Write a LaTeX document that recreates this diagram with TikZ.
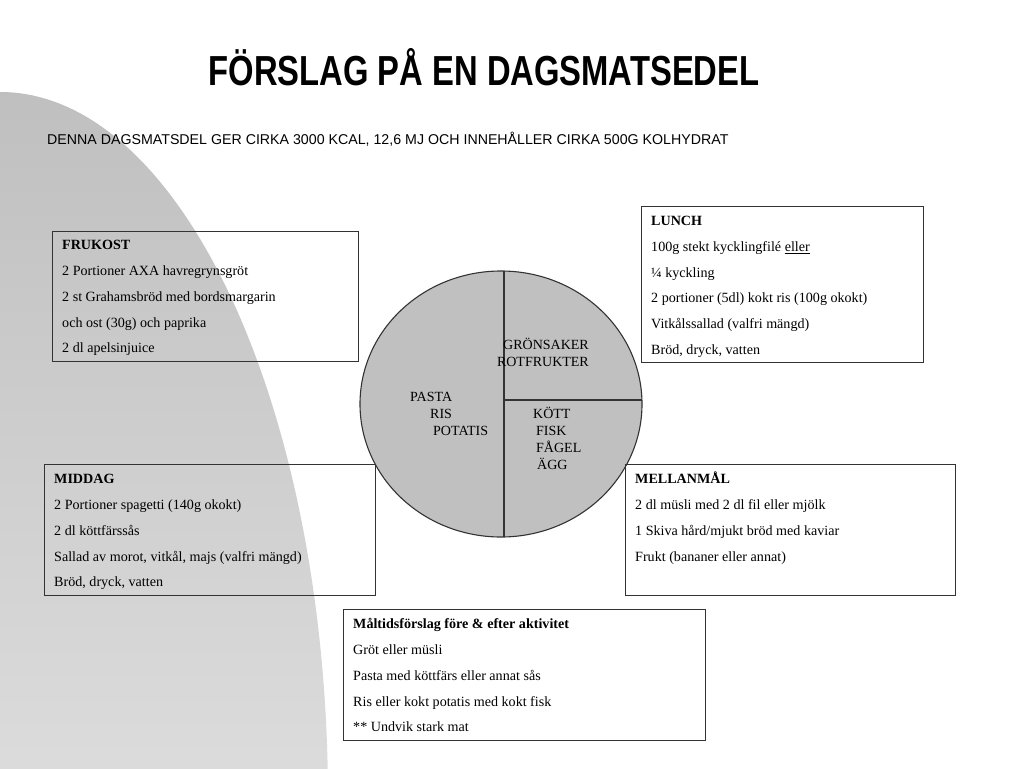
\documentclass[tikz,border=0pt]{standalone}
\usepackage{fontspec}
\setmainfont{Liberation Serif}
\setsansfont{Liberation Sans}
\newfontfamily\titlefont{Liberation Sans}[FakeStretch=0.78]
\usetikzlibrary{shapes.geometric}
\definecolor{edge}{HTML}{333333}
\definecolor{piefill}{HTML}{C0C0C0}
\newcommand{\firstline}{\rule{0pt}{12pt}}
\begin{document}
\begin{tikzpicture}[x=1pt,y=-1pt,
  box/.style={draw=edge, line width=0.9pt, inner sep=0pt, outer sep=0pt, anchor=north west, fill=none},
  txt/.style={anchor=north west, align=left, inner sep=0pt, font=\fontsize{14.1}{25.8}\selectfont},
  pietxt/.style={anchor=base west, inner sep=0pt, font=\fontsize{14}{17}\selectfont},
  pieline/.style={draw=edge, line width=1.1pt}]
\useasboundingbox (0,0) rectangle (1024,768);
% background shape
\begin{scope}
  \clip (0,800) ellipse [x radius=328, y radius=708];
  \shade[top color=black!25, bottom color=black!14] (0,88) rectangle (340,768);
\end{scope}
% title
\node[inner sep=0pt] (title) at (484,67) {\titlefont\bfseries\fontsize{42}{42}\selectfont FÖRSLAG PÅ EN DAGSMATSEDEL};
\node[anchor=base west, inner sep=0pt, font=\sffamily\fontsize{14.2}{16}\selectfont] (sub) at (47,144.5) {DENNA DAGSMATSDEL GER CIRKA 3000 KCAL, 12,6 MJ OCH INNEHÅLLER CIRKA 500G KOLHYDRAT};
% pie
\node[ellipse, draw=edge, line width=1.1pt, fill=piefill, minimum width=282pt, minimum height=266pt, inner sep=0pt, outer sep=0pt] (pie) at (501,404) {};
\coordinate (pmid) at (504,400);
\draw[pieline] (pmid |- pie.north) -- (pmid |- pie.south);
\draw[pieline] (pmid) -- (pmid -| pie.east);
\node[pietxt, anchor=base east] (gron) at (589,349) {GRÖNSAKER};
\node[pietxt, anchor=base east] (rot) at (589,366) {ROTFRUKTER};
\node[pietxt] (pasta) at (410,401) {PASTA};
\node[pietxt] (ris) at (430,418) {RIS};
\node[pietxt] (potatis) at (433,435) {POTATIS};
\node[pietxt] (kott) at (533,418) {KÖTT};
\node[pietxt] (fisk) at (536,435) {FISK};
\node[pietxt] (fagel) at (536,452) {FÅGEL};
\node[pietxt] (agg) at (537,469) {ÄGG};
% boxes
\node[box, minimum width=306pt, minimum height=130pt] (frukost) at (52,231) {};
\node[txt] (frukostt) at ([xshift=10pt,yshift=-6.5pt]frukost.north west) {\firstline\textbf{FRUKOST}\\2 Portioner AXA havregrynsgröt\\2 st Grahamsbröd med bordsmargarin\\och ost (30g) och paprika\\2 dl apelsinjuice};
\node[box, minimum width=282pt, minimum height=156pt] (lunch) at (641,206) {};
\node[txt] (luncht) at ([xshift=10pt,yshift=-7.2pt]lunch.north west) {\firstline\textbf{LUNCH}\\100g stekt kycklingfilé \underline{eller}\\¼ kyckling\\2 portioner (5dl) kokt ris (100g okokt)\\Vitkålssallad (valfri mängd)\\Bröd, dryck, vatten};
\node[box, minimum width=331pt, minimum height=131pt] (middag) at (44,464) {};
\node[txt] (middagt) at ([xshift=10pt,yshift=-7.5pt]middag.north west) {\firstline\textbf{MIDDAG}\\2 Portioner spagetti (140g okokt)\\2 dl köttfärssås\\Sallad av morot, vitkål, majs (valfri mängd)\\Bröd, dryck, vatten};
\node[box, minimum width=330pt, minimum height=131pt] (mellan) at (625,464) {};
\node[txt] (mellant) at ([xshift=10pt,yshift=-7.5pt]mellan.north west) {\firstline\textbf{MELLANMÅL}\\2 dl müsli med 2 dl fil eller mjölk\\1 Skiva hård/mjukt bröd med kaviar\\Frukt (bananer eller annat)};
\node[box, minimum width=362pt, minimum height=131pt] (aktiv) at (343,609) {};
\node[txt] (aktivt) at ([xshift=10pt,yshift=-7.5pt]aktiv.north west) {\firstline\textbf{Måltidsförslag före \& efter aktivitet}\\Gröt eller müsli\\Pasta med köttfärs eller annat sås\\Ris eller kokt potatis med kokt fisk\\** Undvik stark mat};
\end{tikzpicture}
\end{document}
